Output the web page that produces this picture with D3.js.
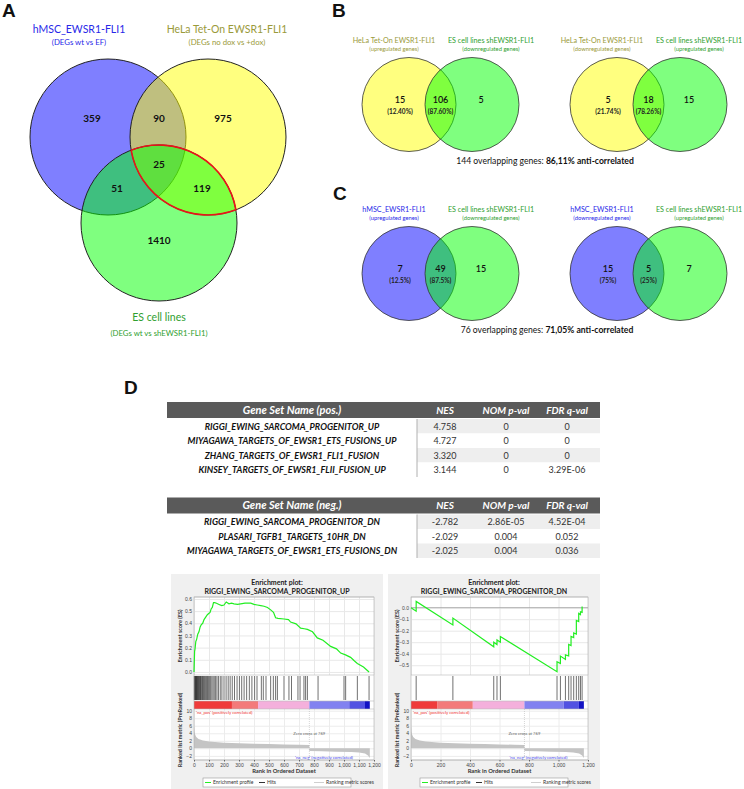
<!DOCTYPE html>
<html>
<head>
<meta charset="utf-8">
<script src="https://d3js.org/d3.v7.min.js"></script>
<style>
  body { margin: 0; background: #ffffff; }
  #chart svg { display: block; }
  text { font-family: Lato, "Open Sans", sans-serif; }
</style>
</head>
<body>
<div id="chart"></div>
<script>
// ---------- panel A : three-set venn ----------
var vennANames = ["hMSC_EWSR1-FLI1", "HeLa Tet-On EWSR1-FLI1", "ES cell lines"];
var vennASubtitles = ["(DEGs wt vs EF)", "(DEGs no dox vs +dox)", "(DEGs wt vs shEWSR1-FLI1)"];
var vennARegions = ["hMSC", "hMSC+HeLa", "HeLa", "all", "hMSC+ES", "HeLa+ES", "ES"];
var vennACounts = [359, 90, 975, 25, 51, 119, 1410];

// ---------- panels B and C : two-set venns ----------
var pairNames = [
    ["HeLa Tet-On EWSR1-FLI1", "ES cell lines shEWSR1-FLI1"],
    ["HeLa Tet-On EWSR1-FLI1", "ES cell lines shEWSR1-FLI1"],
    ["hMSC_EWSR1-FLI1", "ES cell lines shEWSR1-FLI1"],
    ["hMSC_EWSR1-FLI1", "ES cell lines shEWSR1-FLI1"]
];
var pairSubtitles = [
    ["(upregulated genes)", "(downregulated genes)"],
    ["(downregulated genes)", "(upregulated genes)"],
    ["(upregulated genes)", "(downregulated genes)"],
    ["(downregulated genes)", "(upregulated genes)"]
];
var pairCounts = [[15, 106, 5], [5, 18, 15], [7, 49, 15], [15, 5, 7]];
var pairPercents = [["12.40%", "87.60%"], ["21.74%", "78.26%"], ["12.5%", "87.5%"], ["75%", "25%"]];
var overlapTotals = [144, 76];
var antiCorrelated = ["86,11%", "71,05%"];

// ---------- panel D : GSEA tables ----------
var tableColumns = ["NES", "NOM p-val", "FDR q-val"];
var posNames = ["RIGGI_EWING_SARCOMA_PROGENITOR_UP", "MIYAGAWA_TARGETS_OF_EWSR1_ETS_FUSIONS_UP",
    "ZHANG_TARGETS_OF_EWSR1_FLI1_FUSION", "KINSEY_TARGETS_OF_EWSR1_FLII_FUSION_UP"];
var posNES = ["4.758", "4.727", "3.320", "3.144"];
var posNOM = ["0", "0", "0", "0"];
var posFDR = ["0", "0", "0", "3.29E-06"];
var negNames = ["RIGGI_EWING_SARCOMA_PROGENITOR_DN", "PLASARI_TGFB1_TARGETS_10HR_DN",
    "MIYAGAWA_TARGETS_OF_EWSR1_ETS_FUSIONS_DN"];
var negNES = ["-2.782", "-2.029", "-2.025"];
var negNOM = ["2.86E-05", "0.004", "0.004"];
var negFDR = ["4.52E-04", "0.052", "0.036"];

// ---------- panel D : enrichment plots ----------
var upRank = [0, 4, 7, 12, 18, 25, 33, 41, 49, 58, 67, 78, 89, 98, 107, 115, 122, 130, 138, 150, 167, 185, 200, 215,
    233, 250, 267, 290, 311, 340, 378, 400, 422, 445, 467, 490, 511, 530, 544, 560, 600, 630, 644, 680, 711, 735,
    756, 790, 822, 860, 911, 950, 978, 1010, 1044, 1070, 1089, 1130, 1167];
var upES = [0, 0.17, 0.19, 0.25, 0.27, 0.31, 0.33, 0.37, 0.39, 0.40, 0.43, 0.45, 0.47, 0.48, 0.49, 0.52, 0.53, 0.57,
    0.57, 0.565, 0.555, 0.545, 0.55, 0.575, 0.56, 0.565, 0.56, 0.555, 0.56, 0.565, 0.565, 0.555, 0.55, 0.545, 0.54,
    0.53, 0.51, 0.49, 0.445, 0.44, 0.435, 0.43, 0.41, 0.395, 0.36, 0.355, 0.35, 0.33, 0.28, 0.26, 0.21, 0.19, 0.155,
    0.14, 0.12, 0.09, 0.07, 0.04, 0.0];
var upHits = [2, 5, 8, 11, 14, 17, 20, 24, 27, 31, 35, 39, 43, 47, 52, 57, 62, 67, 72, 78, 84, 90, 97, 104, 111, 119,
    127, 135, 144, 153, 163, 175, 186, 200, 214, 228, 241, 255, 270, 287, 303, 318, 334, 351, 369, 386, 404, 420,
    449, 462, 480, 511, 529, 544, 556, 600, 633, 650, 693, 707, 733, 744, 756, 827, 1000, 1011, 1089, 1167];
var upBarStops = [0, 253, 427, 769, 1035, 1140, 1172];

var dnRank = [0, 35, 35, 284, 284, 561, 561, 583, 583, 606, 606, 990, 990, 1013, 1013, 1047, 1047, 1069, 1069, 1085,
    1085, 1103, 1103, 1121, 1121, 1137, 1137, 1149, 1149, 1160, 1160];
var dnES = [0, -0.03, 0.055, -0.15, -0.09, -0.34, -0.30, -0.32, -0.28, -0.30, -0.25, -0.557, -0.47, -0.485, -0.42,
    -0.45, -0.41, -0.42, -0.32, -0.33, -0.25, -0.26, -0.22, -0.23, -0.11, -0.12, -0.05, -0.06, -0.035, -0.04, 0.01];
var dnHits = [35, 284, 561, 583, 606, 990, 1013, 1047, 1069, 1085, 1103, 1121, 1137, 1149, 1160];
var dnBarStops = [0, 177, 419, 769, 1035, 1138, 1172];

// ranked list metric, shared by both plots
var metricRank = [0, 3, 8, 15, 30, 60, 100, 200, 300, 400, 500, 600, 700, 769, 769, 850, 950, 1050, 1100, 1140, 1160, 1172];
var metricValue = [6.5, 4.5, 3.6, 3.0, 2.5, 2.1, 1.8, 1.5, 1.35, 1.25, 1.15, 1.05, 0.95, 0.9, -0.7, -0.8, -0.9, -1.0,
    -1.1, -1.4, -1.9, -2.6];
var zeroCross = 769;
var rankTicksUp = [0, 100, 200, 300, 400, 500, 600, 700, 800, 900, 1000, 1100, 1200];
var rankTicksDn = [0, 200, 400, 600, 800, 1000, 1200];

var svg = d3.select("#chart").append("svg").attr("width", 744).attr("height", 789);

var blueCol = "#0000ff", yellowCol = "#ffff00", greenCol = "#00ff00";
var blueText = "#2828e8", oliveText = "#9a9a3a", greenText = "#2fa02f";

// panel letters
[["A", 2, 17], ["B", 332, 17], ["C", 333, 200], ["D", 124, 394]].forEach(function (d) {
    svg.append("text").attr("x", d[1]).attr("y", d[2]).text(d[0])
        .style("font-family", "'Liberation Sans', Arial, sans-serif")
        .style("font-weight", "bold").style("font-size", "19px").style("fill", "#111");
});

function vennThree(options) {
    var g = svg.append("g");
    var r = options.r;
    var fills = [blueCol, yellowCol, greenCol];
    options.centers.forEach(function (c, i) {
        g.append("circle").attr("cx", c[0]).attr("cy", c[1]).attr("r", r)
            .style("fill", fills[i]).style("fill-opacity", 0.5)
            .style("stroke", "#222").style("stroke-width", 1);
    });
    // red outline around HeLa & ES overlap
    var b = options.centers[1], c = options.centers[2];
    var dx = c[0] - b[0], dy = c[1] - b[1], dist = Math.sqrt(dx * dx + dy * dy);
    var h = Math.sqrt(r * r - dist * dist / 4);
    var mx = (b[0] + c[0]) / 2, my = (b[1] + c[1]) / 2;
    var ux = -dy / dist, uy = dx / dist;
    var p1 = [mx + ux * h, my + uy * h], p2 = [mx - ux * h, my - uy * h];
    if (p1[0] > p2[0]) { var t = p1; p1 = p2; p2 = t; }
    g.append("path")
        .attr("d", "M" + p1 + "A" + r + "," + r + " 0 0,1 " + p2 + "A" + r + "," + r + " 0 0,1 " + p1)
        .style("fill", "none").style("stroke", "#e8141a").style("stroke-width", 1.6);

    g.selectAll(".cnt").data(options.counts).enter().append("text")
        .attr("x", function (d, i) { return options.labelPos[i][0]; })
        .attr("y", function (d, i) { return options.labelPos[i][1]; })
        .attr("dy", "0.35em").attr("text-anchor", "middle")
        .style("font-weight", "bold").style("font-size", "10px").style("fill", "#111")
        .text(function (d) { return d; });

    var titleCols = [blueText, oliveText, greenText];
    options.titlePos.forEach(function (p, i) {
        g.append("text").attr("x", p[0]).attr("y", p[1]).attr("text-anchor", "middle")
            .style("font-size", "10.5px").style("fill", titleCols[i]).text(options.names[i]);
        g.append("text").attr("x", p[0]).attr("y", p[1] + (i == 2 ? 15 : 12)).attr("text-anchor", "middle")
            .style("font-size", "7.8px").style("fill", titleCols[i]).text(options.subtitles[i]);
    });
}

vennThree({
    centers: [[108, 137], [208, 137], [159, 223]],
    r: 78,
    counts: vennACounts,
    labelPos: [[92, 118], [159, 118], [223, 118], [159, 164], [117, 188], [202, 188], [159, 240]],
    names: vennANames,
    subtitles: vennASubtitles,
    titlePos: [[79, 33], [227, 33], [159, 321]]
});

function vennPair(options) {
    var g = svg.append("g");
    var r = options.r, cy = options.cy, c1 = options.cx, c2 = options.cx + options.gap;
    g.append("circle").attr("cx", c1).attr("cy", cy).attr("r", r)
        .style("fill", options.leftFill).style("fill-opacity", 0.5).style("stroke", "#333").style("stroke-width", 0.8);
    g.append("circle").attr("cx", c2).attr("cy", cy).attr("r", r)
        .style("fill", greenCol).style("fill-opacity", 0.5).style("stroke", "#333").style("stroke-width", 0.8);

    var xs = [c1 - 9, (c1 + c2) / 2, c2 + 9];
    g.selectAll(".n").data(options.counts).enter().append("text")
        .attr("x", function (d, i) { return xs[i]; }).attr("y", cy - 2)
        .attr("text-anchor", "middle").style("font-size", "9px").style("font-weight", "600").style("fill", "#111")
        .text(function (d) { return d; });
    g.selectAll(".p").data(options.percents).enter().append("text")
        .attr("x", function (d, i) { return xs[i]; }).attr("y", cy + 9)
        .attr("text-anchor", "middle").style("font-size", "6.5px").style("font-weight", "bold").style("fill", "#222")
        .text(function (d) { return "(" + d + ")"; });

    var tx = [c1 - 15, c2 + 19], cols = [options.leftText, greenText];
    [0, 1].forEach(function (i) {
        g.append("text").attr("x", tx[i]).attr("y", cy - 62).attr("text-anchor", "middle")
            .style("font-size", "7.2px").style("fill", cols[i]).text(options.names[i]);
        g.append("text").attr("x", tx[i]).attr("y", cy - 54).attr("text-anchor", "middle")
            .style("font-size", "5.8px").style("fill", cols[i]).text(options.subtitles[i]);
    });
}

var pairLayout = [[409, 104.5, yellowCol, oliveText], [617, 104.5, yellowCol, oliveText],
    [409, 273.5, blueCol, blueText], [617, 273.5, blueCol, blueText]];
pairCounts.forEach(function (cnt, i) {
    vennPair({
        cx: pairLayout[i][0], cy: pairLayout[i][1], gap: 63, r: 47,
        leftFill: pairLayout[i][2], leftText: pairLayout[i][3],
        counts: cnt, percents: pairPercents[i], names: pairNames[i], subtitles: pairSubtitles[i]
    });
});

[[545, 164], [547, 333]].forEach(function (p, i) {
    var t = svg.append("text").attr("x", p[0]).attr("y", p[1]).attr("text-anchor", "middle")
        .style("font-size", "8.6px").style("fill", "#111");
    t.append("tspan").text(overlapTotals[i] + " overlapping genes: ");
    t.append("tspan").style("font-weight", "bold").text(antiCorrelated[i] + " anti-correlated");
});

// ---------- tables ----------
function geneTable(options) {
    var g = svg.append("g");
    var left = 167, right = 600, sep = 417, headH = 16, rowH = 14.5;
    var colX = [292, 445, 506, 567];
    var rows = options.names.map(function (d, i) {
        return [d, options.nes[i], options.nom[i], options.fdr[i]];
    });
    var y = d3.scaleBand().domain(d3.range(rows.length))
        .range([options.top + headH + 1, options.top + headH + 1 + rows.length * rowH]);

    g.append("rect").attr("x", left).attr("y", options.top).attr("width", right - left).attr("height", headH)
        .style("fill", "#5a5a5a");
    g.selectAll(".hd").data([options.title].concat(tableColumns)).enter().append("text")
        .attr("x", function (d, i) { return colX[i]; }).attr("y", options.top + headH / 2)
        .attr("dy", "0.36em").attr("text-anchor", "middle")
        .style("fill", "#fff").style("font-weight", "bold").style("font-style", "italic")
        .style("font-size", function (d, i) { return i == 0 ? "11px" : "10px"; })
        .text(function (d) { return d; });

    g.selectAll(".band").data(rows).enter().append("rect")
        .attr("x", sep).attr("y", function (d, i) { return y(i); })
        .attr("width", right - sep).attr("height", y.bandwidth())
        .style("fill", function (d, i) { return i % 2 == 0 ? "#eeeeee" : "#ffffff"; });
    g.append("line").attr("x1", sep).attr("x2", sep)
        .attr("y1", y.range()[0]).attr("y2", y.range()[1])
        .style("stroke", "#b0b0b0").style("stroke-width", 1);

    var row = g.selectAll(".row").data(rows).enter().append("g")
        .attr("transform", function (d, i) { return "translate(0," + (y(i) + y.bandwidth() / 2) + ")"; });
    row.selectAll("text").data(function (d) { return d; }).enter().append("text")
        .attr("x", function (d, i) { return colX[i]; }).attr("dy", "0.36em").attr("text-anchor", "middle")
        .style("font-size", "9px")
        .style("font-weight", function (d, i) { return i == 0 ? "bold" : "normal"; })
        .style("font-style", function (d, i) { return i == 0 ? "italic" : "normal"; })
        .style("fill", function (d, i) { return i == 0 ? "#111" : "#333"; })
        .text(function (d) { return d; });
}

geneTable({ top: 402, title: "Gene Set Name (pos.)", names: posNames, nes: posNES, nom: posNOM, fdr: posFDR });
geneTable({ top: 497.5, title: "Gene Set Name (neg.)", names: negNames, nes: negNES, nom: negNOM, fdr: negFDR });

// ---------- enrichment plots ----------
function enrichmentPlot(options) {
    var g = svg.append("g");
    var x0 = options.left, boxL = x0 + 23, boxR = boxL + options.boxW;
    var esTop = 597, esBot = 675, hitBot = 700, barTop = 701, barBot = 709, metBot = 760;

    g.append("rect").attr("x", x0).attr("y", 574).attr("width", 212).attr("height", 215).style("fill", "#f0f0f0");
    g.append("rect").attr("x", boxL).attr("y", esTop).attr("width", boxR - boxL).attr("height", metBot - esTop)
        .style("fill", "#fff");

    var x = d3.scaleLinear().domain([0, 1200]).range([boxL, boxR]);
    var yES = d3.scaleLinear().domain(options.esDomain).range([esBot, esTop]);
    var yM = d3.scaleLinear().domain([-3.1, 10.45]).range([metBot, barBot]);

    g.append("text").attr("x", x0 + 106).attr("y", 584.5).attr("text-anchor", "middle")
        .style("font-size", "7px").style("font-weight", "bold").style("fill", "#222").text("Enrichment plot:");
    g.append("text").attr("x", x0 + 106).attr("y", 594).attr("text-anchor", "middle")
        .style("font-size", "7px").style("font-weight", "bold").style("fill", "#222").text(options.title);

    // grids
    g.append("g").attr("transform", "translate(0," + esBot + ")")
        .call(d3.axisBottom(x).tickValues(options.rankTicks).tickSize(-(esBot - esTop)).tickFormat(""))
        .call(function (s) { s.selectAll("line").style("stroke", "#e8e8e8"); s.select(".domain").remove(); });
    var esAxis = g.append("g").attr("transform", "translate(" + boxL + ",0)")
        .call(d3.axisLeft(yES).tickValues(options.esTicks).tickSize(-(boxR - boxL)).tickFormat(d3.format(".1f")));
    esAxis.select(".domain").remove();
    esAxis.selectAll("line").style("stroke", "#e8e8e8");
    esAxis.selectAll("text").attr("x", -2).style("font-size", "5px").style("fill", "#444")
        .style("font-family", "'Liberation Sans', sans-serif");
    if (options.zeroLine) {
        g.append("line").attr("x1", boxL).attr("x2", boxR).attr("y1", yES(0)).attr("y2", yES(0))
            .style("stroke", "#999").style("stroke-width", 0.8);
    }

    g.append("g").attr("transform", "translate(0," + metBot + ")")
        .call(d3.axisBottom(x).tickValues(options.rankTicks).tickSize(-(metBot - barBot)).tickFormat(""))
        .call(function (s) { s.selectAll("line").style("stroke", "#ececec"); s.select(".domain").remove(); });
    var mAxis = g.append("g").attr("transform", "translate(" + boxL + ",0)")
        .call(d3.axisLeft(yM).tickValues([-2, 0, 2, 4, 6, 8, 10]).tickSize(-(boxR - boxL)));
    mAxis.select(".domain").remove();
    mAxis.selectAll("line").style("stroke", "#ececec");
    mAxis.selectAll("text").attr("x", -2).style("font-size", "5px").style("fill", "#444")
        .style("font-family", "'Liberation Sans', sans-serif");

    // metric area
    var pts = metricRank.map(function (d, i) { return [d, metricValue[i]]; });
    g.append("path").datum(pts)
        .attr("d", d3.area().x(function (d) { return x(d[0]); }).y0(yM(0)).y1(function (d) { return yM(d[1]); }))
        .style("fill", "#c4c4c4");
    g.append("line").attr("x1", x(zeroCross)).attr("x2", x(zeroCross)).attr("y1", barBot).attr("y2", metBot)
        .style("stroke", "#aaa").style("stroke-width", 0.5).style("stroke-dasharray", "1,1");
    g.append("text").attr("x", x(zeroCross)).attr("y", 735).attr("text-anchor", "middle")
        .style("font-size", "4.2px").style("fill", "#666").text("Zero cross at " + zeroCross);
    g.append("text").attr("x", boxL + 2).attr("y", 714)
        .style("font-size", "4.3px").style("fill", "#ee3333").text("'na_pos' (positively correlated)");
    g.append("text").attr("x", x(1060)).attr("y", 758.5).attr("text-anchor", "end")
        .style("font-size", "4.3px").style("fill", "#4444ee").text("'na_neg' (negatively correlated)");

    // colour bar
    var barCols = ["#ef3b3b", "#f37a7a", "#f4b0dc", "#8282f0", "#5252e2", "#1212c4"];
    var segs = d3.range(options.barStops.length - 1);
    g.selectAll(".seg").data(segs).enter().append("rect")
        .attr("x", function (i) { return x(options.barStops[i]); }).attr("y", barTop)
        .attr("width", function (i) { return x(options.barStops[i + 1]) - x(options.barStops[i]); })
        .attr("height", barBot - barTop)
        .style("fill", function (i) { return barCols[i]; });

    // hits
    g.selectAll(".hit").data(options.hits).enter().append("line")
        .attr("x1", function (d) { return x(d); }).attr("x2", function (d) { return x(d); })
        .attr("y1", esBot + 1).attr("y2", hitBot)
        .style("stroke", "#111").style("stroke-width", 0.6);

    // box lines
    [esTop, esBot, barTop, barBot, metBot].forEach(function (yy) {
        g.append("line").attr("x1", boxL).attr("x2", boxR).attr("y1", yy).attr("y2", yy)
            .style("stroke", "#b8b8b8").style("stroke-width", 0.6);
    });
    g.append("rect").attr("x", boxL).attr("y", esTop).attr("width", boxR - boxL).attr("height", metBot - esTop)
        .style("fill", "none").style("stroke", "#b0b0b0").style("stroke-width", 0.6);

    // ES curve
    var es = options.rank.map(function (d, i) { return [d, options.es[i]]; });
    g.append("path").datum(es)
        .attr("d", d3.line().x(function (d) { return x(d[0]); }).y(function (d) { return yES(d[1]); }))
        .style("fill", "none").style("stroke", "#22ee22").style("stroke-width", 1.2);

    // x axis labels
    var xa = g.append("g").attr("transform", "translate(0," + metBot + ")")
        .call(d3.axisBottom(x).tickValues(options.rankTicks).tickSize(1.5).tickFormat(d3.format(",")));
    xa.select(".domain").remove();
    xa.selectAll("line").style("stroke", "#666");
    xa.selectAll("text").attr("y", 3).style("font-size", "5px").style("fill", "#444")
        .style("font-family", "'Liberation Sans', sans-serif");
    g.append("text").attr("x", (boxL + boxR) / 2).attr("y", 773).attr("text-anchor", "middle")
        .style("font-size", "5.8px").style("font-weight", "bold").style("fill", "#333").text("Rank in Ordered Dataset");

    g.append("text").attr("transform", "translate(" + (boxL - 12) + "," + ((esTop + esBot) / 2) + ") rotate(-90)")
        .attr("text-anchor", "middle").style("font-size", "5.5px").style("font-weight", "bold").style("fill", "#333")
        .text("Enrichment score (ES)");
    g.append("text").attr("transform", "translate(" + (boxL - 12) + ",730) rotate(-90)")
        .attr("text-anchor", "middle").style("font-size", "5.5px").style("font-weight", "bold").style("fill", "#333")
        .text("Ranked list metric (PreRanked)");

    // legend
    var lg = g.append("g").attr("transform", "translate(" + (x0 + 32) + ",778)");
    lg.append("rect").attr("width", 148).attr("height", 9).style("fill", "#fff")
        .style("stroke", "#999").style("stroke-width", 0.6);
    [[2, 8, "#22ee22", "Enrichment profile"], [56, 62, "#333", "Hits"], [111, 121, "#cfcfcf", "Ranking metric scores"]]
        .forEach(function (it) {
            lg.append("line").attr("x1", it[0]).attr("x2", it[1]).attr("y1", 4.5).attr("y2", 4.5)
                .style("stroke", it[2]).style("stroke-width", 1);
            lg.append("text").attr("x", it[1] + 2).attr("y", 6.3).style("font-size", "5px").style("fill", "#333")
                .text(it[3]);
        });
}

enrichmentPlot({
    left: 171, boxW: 180, title: "RIGGI_EWING_SARCOMA_PROGENITOR_UP",
    rank: upRank, es: upES, hits: upHits, barStops: upBarStops,
    esDomain: [-0.025, 0.616], esTicks: [0, 0.1, 0.2, 0.3, 0.4, 0.5, 0.6], rankTicks: rankTicksUp, zeroLine: false
});
enrichmentPlot({
    left: 388, boxW: 177, title: "RIGGI_EWING_SARCOMA_PROGENITOR_DN",
    rank: dnRank, es: dnES, hits: dnHits, barStops: dnBarStops,
    esDomain: [-0.585, 0.093], esTicks: [0, -0.1, -0.2, -0.3, -0.4, -0.5], rankTicks: rankTicksDn, zeroLine: true
});
</script>
</body>
</html>
